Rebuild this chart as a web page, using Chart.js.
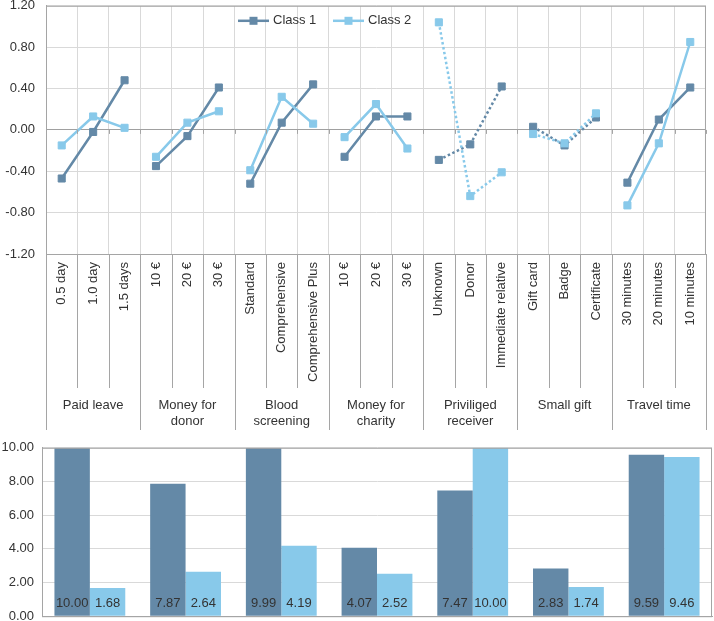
<!DOCTYPE html>
<html>
<head>
<meta charset="utf-8">
<script src="https://cdn.jsdelivr.net/npm/chart.js@4.4.1/dist/chart.umd.min.js"></script>
<style>
	html, body { margin:0; padding:0; background:#fff; overflow:hidden; }
	#wrap { position:relative; width:714px; height:621px; overflow:hidden; }
	#box_top { position:absolute; left:0; top:-13px; width:714px; height:445px; }
	#box_bar { position:absolute; left:0; top:432px; width:714px; height:200px; }
</style>
</head>
<body>
<div id="wrap">
	<div id="box_top"><canvas id="id_top"></canvas></div>
	<div id="box_bar"><canvas id="id_bar"></canvas></div>
</div>
<script>
// 属性ごとの水準（3つずつ）
var levelLabels = [
	"0.5 day", "1.0 day", "1.5 days",
	"10 €", "20 €", "30 €",
	"Standard", "Comprehensive", "Comprehensive Plus",
	"10 €", "20 €", "30 €",
	"Unknown", "Donor", "Immediate relative",
	"Gift card", "Badge", "Certificate",
	"30 minutes", "20 minutes", "10 minutes"
];
var groupNames = [
	["Paid leave"], ["Money for", "donor"], ["Blood", "screening"],
	["Money for", "charity"], ["Priviliged", "receiver"], ["Small gift"], ["Travel time"]
];
var dottedGroups = [4, 5]; // 点線で描くグループ

var class1 = [
	-0.47, -0.02, 0.48,
	-0.35, -0.06, 0.41,
	-0.52, 0.07, 0.44,
	-0.26, 0.13, 0.13,
	-0.29, -0.14, 0.42,
	0.03, -0.15, 0.12,
	-0.51, 0.10, 0.41
];
var class2 = [
	-0.15, 0.13, 0.02,
	-0.26, 0.07, 0.18,
	-0.39, 0.32, 0.06,
	-0.07, 0.25, -0.18,
	1.04, -0.64, -0.41,
	-0.04, -0.13, 0.16,
	-0.73, -0.13, 0.85
];

// 下のグラフ（重要度）
var barClass1 = [10.00, 7.87, 9.99, 4.07, 7.47, 2.83, 9.59];
var barClass2 = [1.68, 2.64, 4.19, 2.52, 10.00, 1.74, 9.46];

var COLOR1 = "#6489a7";
var COLOR2 = "#88c9ea";
var TEXT_COLOR = "#333333";
var GRID = "#d9d9d9";
var AXIS = "#a5a5a5";
var FONT = { family: "'Liberation Sans', Arial, sans-serif", size: 13 };

Chart.defaults.font.family = FONT.family;
Chart.defaults.font.size = FONT.size;
Chart.defaults.color = TEXT_COLOR;

var fmt2 = function( v ){
	if( Math.abs(v) < 1e-9 ){ v = 0; }
	return v.toFixed(2);
};

var makeLine = function( label, data, color, order ){
	return {
		label : label,
		data : data,
		order : order,
		borderColor : color,
		backgroundColor : color,
		borderWidth : 2.5,
		tension : 0,
		pointStyle : "rect",
		pointRadius : 5,
		pointBorderWidth : 1,
		pointHoverRadius : 5,
		segment : {
			// グループをまたぐ線は描かない
			borderColor : function(c){ return (c.p0DataIndex % 3 === 2) ? "rgba(0,0,0,0)" : color; },
			borderDash : function(c){
				return dottedGroups.indexOf(Math.floor(c.p0DataIndex / 3)) >= 0 ? [2.5, 2.5] : undefined;
			}
		}
	};
};

// 枠・区切り線・グループ名・凡例
var topDecor = {
	id : "topDecor",
	afterDatasetsDraw : function( chart ){
		var ctx = chart.ctx, area = chart.chartArea, ys = chart.scales.y;
		var step = (area.right - area.left) / levelLabels.length;
		var i, x, y0 = ys.getPixelForValue(0);
		ctx.save();
		ctx.lineWidth = 1;
		ctx.strokeStyle = AXIS;
		for( i = 0; i <= levelLabels.length; i++ ){
			x = Math.round(area.left + step * i) + 0.5;
			ctx.beginPath();
			ctx.moveTo(x, area.bottom);
			ctx.lineTo(x, area.bottom + ((i % 3 === 0) ? 176 : 134));
			ctx.stroke();
			ctx.beginPath();
			ctx.moveTo(x, y0);
			ctx.lineTo(x, y0 + 4);
			ctx.stroke();
		}
		ctx.strokeRect(area.left + 0.5, area.top + 0.5, area.right - area.left - 1, area.bottom - area.top);

		ctx.fillStyle = TEXT_COLOR;
		ctx.font = FONT.size + "px " + FONT.family;
		ctx.textAlign = "center";
		ctx.textBaseline = "middle";
		groupNames.forEach(function( lines, g ){
			var cx = area.left + step * (g * 3 + 1.5);
			lines.forEach(function( t, k ){
				ctx.fillText(t, cx, area.bottom + 151 + k * 16);
			});
		});

		// 凡例
		var items = [
			{ text : chart.data.datasets[0].label, color : COLOR1, x : area.left + 192 },
			{ text : chart.data.datasets[1].label, color : COLOR2, x : area.left + 287 }
		];
		var ly = area.top + 15;
		items.forEach(function( it ){
			ctx.strokeStyle = it.color;
			ctx.fillStyle = it.color;
			ctx.lineWidth = 2.5;
			ctx.beginPath();
			ctx.moveTo(it.x, ly);
			ctx.lineTo(it.x + 31, ly);
			ctx.stroke();
			ctx.fillRect(it.x + 11.5, ly - 4, 8, 8);
			ctx.fillStyle = TEXT_COLOR;
			ctx.textAlign = "left";
			ctx.fillText(it.text, it.x + 35, ly);
		});
		ctx.restore();
	}
};

var topChart = new Chart(document.getElementById("id_top").getContext("2d"), {
	type : "line",
	data : {
		labels : levelLabels,
		datasets : [
			makeLine("Class 1", class1, COLOR1, 2),
			makeLine("Class 2", class2, COLOR2, 1)
		]
	},
	options : {
		responsive : true,
		maintainAspectRatio : false,
		animation : false,
		layout : { padding : { top : 0, right : 2, left : 0, bottom : 0 } },
		plugins : { legend : { display : false }, tooltip : { enabled : false } },
		scales : {
			x : {
				offset : true,
				grid : { offset : true, color : GRID, drawTicks : false },
				border : { color : AXIS },
				ticks : { autoSkip : false, minRotation : 90, maxRotation : 90, padding : 8, color : TEXT_COLOR },
				afterFit : function( scale ){ scale.height = 178; }
			},
			y : {
				min : -1.2,
				max : 1.2,
				grid : {
					drawTicks : false,
					color : function(c){ return (Math.abs(c.tick.value) < 1e-9) ? "#a0a0a0" : GRID; }
				},
				border : { color : AXIS },
				ticks : { stepSize : 0.4, padding : 11, color : TEXT_COLOR, callback : function(v){ return fmt2(v); } },
				afterFit : function( scale ){ scale.width = 46; }
			}
		}
	},
	plugins : [ topDecor ]
});

// 棒の下に値を書く
var barValues = {
	id : "barValues",
	afterDatasetsDraw : function( chart ){
		var ctx = chart.ctx, area = chart.chartArea;
		ctx.save();
		ctx.fillStyle = TEXT_COLOR;
		ctx.font = FONT.size + "px " + FONT.family;
		ctx.textAlign = "center";
		ctx.textBaseline = "middle";
		chart.data.datasets.forEach(function( ds, d ){
			chart.getDatasetMeta(d).data.forEach(function( bar, i ){
				ctx.fillText(ds.data[i].toFixed(2), bar.x, area.bottom - 13);
			});
		});
		ctx.strokeStyle = AXIS;
		ctx.lineWidth = 1;
		ctx.strokeRect(area.left + 0.5, area.top + 0.5, area.right - area.left - 1, area.bottom - area.top);
		ctx.restore();
	}
};

var barChart = new Chart(document.getElementById("id_bar").getContext("2d"), {
	type : "bar",
	data : {
		labels : groupNames.map(function(g){ return g.join(" "); }),
		datasets : [
			{ label : "Class 1", data : barClass1, backgroundColor : COLOR1, categoryPercentage : 0.74, barPercentage : 1 },
			{ label : "Class 2", data : barClass2, backgroundColor : COLOR2, categoryPercentage : 0.74, barPercentage : 1 }
		]
	},
	options : {
		responsive : true,
		maintainAspectRatio : false,
		animation : false,
		layout : { padding : { top : 4, right : 2, left : 0, bottom : 0 } },
		plugins : { legend : { display : false }, tooltip : { enabled : false } },
		scales : {
			x : {
				grid : { display : false },
				border : { color : AXIS },
				ticks : { display : false }
			},
			y : {
				min : 0,
				max : 10,
				grid : { color : GRID, drawTicks : false },
				border : { color : AXIS },
				ticks : { stepSize : 2, padding : 8, color : TEXT_COLOR, callback : function(v){ return fmt2(v); } },
				afterFit : function( scale ){ scale.width = 42; }
			}
		}
	},
	plugins : [ barValues ]
});
</script>
</body>
</html>
